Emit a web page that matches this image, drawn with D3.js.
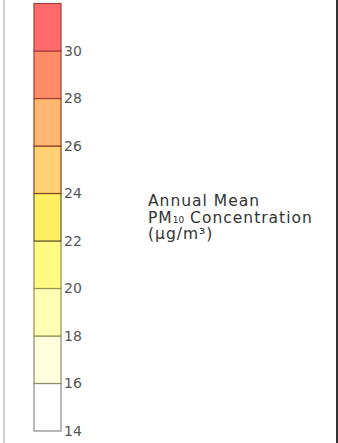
<!DOCTYPE html>
<html>
<head>
<meta charset="utf-8">
<script src="https://cdn.jsdelivr.net/npm/d3@7"></script>
<style>
  body { margin: 0; background: #fff; }
  svg { display: block; }
</style>
</head>
<body>
<div id="legend"></div>
<script>
// set parameters
var svgWidth = 338;
var svgHeight = 443;
var fontFam = "'DejaVu Sans', sans-serif";

// legend data
var breaks = [14, 16, 18, 20, 22, 24, 26, 28, 30, 32];
var bandColors = ["#ffffff", "#ffffdc", "#ffffb3", "#fffa82", "#ffef62", "#ffd173", "#ffb873", "#ff8c66", "#ff6a6a"];
var bandStrokes = ["#8a8a8a", "#8a8a70", "#9a9050", "#9a9050", "#6a5a30", "#884420", "#884420", "#a04030", "#a04040"];
var tickLabels = [14, 16, 18, 20, 22, 24, 26, 28, 30];
var titleLines = ["Annual Mean", "PM|10| Concentration", "(µg/m³)"];

var svg = d3.select("#legend")
    .append("svg")
    .attr("width", svgWidth)
    .attr("height", svgHeight);

// frame lines
svg.append("line")
    .attr("x1", 4).attr("x2", 4)
    .attr("y1", 0).attr("y2", svgHeight)
    .attr("stroke", "#bdbdbd")
    .attr("stroke-width", 1.5);

svg.append("line")
    .attr("x1", 337).attr("x2", 337)
    .attr("y1", 0).attr("y2", svgHeight)
    .attr("stroke", "#333")
    .attr("stroke-width", 2);

// scales
var yScale = d3.scaleLinear()
    .domain([14, 32])
    .range([431, 3.5]);

var barX = 34;
var barW = 27;

var bands = d3.range(breaks.length - 1).map(function(i) {
    return { lo: breaks[i], hi: breaks[i + 1], fill: bandColors[i], stroke: bandStrokes[i] };
});

svg.append("g").selectAll("rect")
    .data(bands)
    .enter()
    .append("rect")
    .attr("x", barX)
    .attr("y", d => yScale(d.hi))
    .attr("width", barW)
    .attr("height", d => yScale(d.lo) - yScale(d.hi))
    .attr("fill", d => d.fill)
    .attr("stroke", d => d.stroke)
    .attr("stroke-width", 1.2);

// axis labels
var rightAxis = d3.axisRight(yScale)
    .tickValues(tickLabels)
    .tickSize(0)
    .tickPadding(3);

var axisG = svg.append("g")
    .attr("transform", `translate(${barX + barW}, 0)`)
    .call(rightAxis);

axisG.select(".domain").remove();
axisG.selectAll("text")
    .attr("font-family", fontFam)
    .attr("font-size", 14)
    .attr("fill", "#555")
    .attr("dy", "0.32em");

// title
var title = svg.append("text")
    .attr("x", 148)
    .attr("y", 206)
    .attr("font-family", fontFam)
    .attr("font-size", 15.5)
    .attr("letter-spacing", 1)
    .attr("fill", "#333");

titleLines.forEach(function(line, i) {
    var parts = line.split("|");
    parts.forEach(function(p, j) {
        var ts = title.append("tspan").text(p);
        if (j === 0) ts.attr("x", 148).attr("dy", i === 0 ? 0 : 16.5);
        if (j === 1) ts.attr("font-size", 9).attr("letter-spacing", 0).attr("dy", 0);
    });
});
</script>
</body>
</html>
